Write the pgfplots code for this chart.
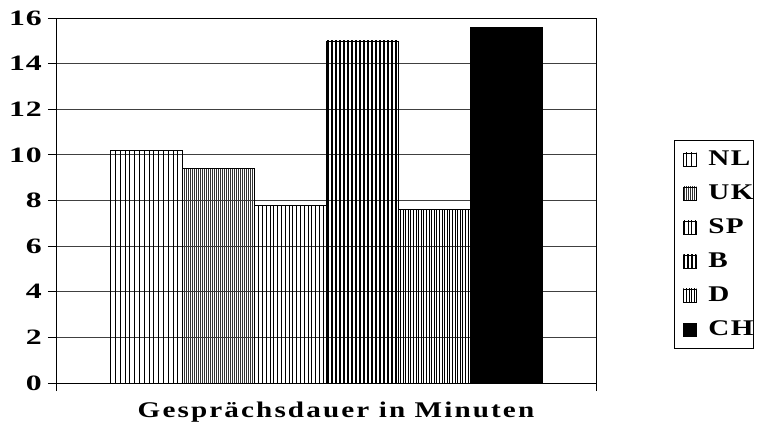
\documentclass[border=0pt]{standalone}
\usepackage{fontspec}
\setmainfont{Liberation Serif}
\usepackage{pgfplots}
\pgfplotsset{compat=1.18}
\usetikzlibrary{patterns.meta}

% wide bold faces for ticks, axis label and legend
\newfontfamily\tickfont[FakeStretch=1.45, LetterSpace=4]{Liberation Serif}
\newfontfamily\labelfont[FakeStretch=1.3, LetterSpace=9.5]{Liberation Serif}
\newfontfamily\legfont[FakeStretch=1.3, LetterSpace=6]{Liberation Serif}

\begin{document}
\begin{tikzpicture}
\begin{axis}[
  scale only axis,
  width=540bp, height=365bp,
  xmin=-0.5, xmax=0.5,
  ymin=0, ymax=16,
  ytick={0,2,...,16},
  xtick={-0.5,0.5},
  xticklabels={},
  tick pos=left,
  tick align=outside,
  major tick length=8bp,
  tick style={black, line width=0.8pt},
  ymajorgrids,
  grid style={black!75, line width=0.8pt},
  axis line style={black, line width=0.8pt},
  yticklabel={\tickfont\fontsize{22}{22}\selectfont\bfseries\pgfmathprintnumber[assume math mode=true]{\tick}},
  yticklabel style={inner xsep=1bp, xshift=-5bp},
  xlabel={\labelfont\fontsize{22.5}{22.5}\selectfont\bfseries Gesprächsdauer in Minuten},
  xlabel style={yshift=-1bp, xshift=10bp},
  ybar=0pt,
  bar width=0.13333,
  legend style={at={(rel axis cs:1.1444,0.6658)}, anchor=north west,
    draw=black, line width=0.8pt,
    font=\legfont\fontsize{22.5}{22.5}\selectfont\bfseries,
    nodes={inner sep=0pt, text height=16bp, text depth=4bp},
    row sep=14bp, inner ysep=9bp, inner xsep=0bp,
    /tikz/column 1/.style={column sep=0bp},
    /tikz/column 2/.style={column sep=3bp}},
  legend cell align=left,
  legend image code/.code={\draw[#1, line width=0.4pt] (9bp,-6.5bp) rectangle (22bp,6.5bp);
    \path[draw=none, fill=none, pattern=none] (0bp,0bp) rectangle (34bp,0.1bp);},
]
\addplot[draw=black, line width=0.6pt, pattern={Lines[angle=90, distance=4.8bp, line width=0.5bp]}] coordinates {(0,10.2)};
\addlegendentry{NL}
\addplot[draw=black, line width=0.6pt, pattern={Lines[angle=90, distance=2bp, line width=0.8bp]}, pattern color=black!80] coordinates {(0,9.4)};
\addlegendentry{UK}
\addplot[draw=black, line width=0.6pt, pattern={Lines[angle=90, distance=3.8bp, line width=0.6bp]}] coordinates {(0,7.8)};
\addlegendentry{SP}
\addplot[draw=black, line width=0.6pt, pattern={Lines[angle=90, distance=4bp, line width=2bp]}] coordinates {(0,15)};
\addlegendentry{B}
\addplot[draw=black, line width=0.6pt, pattern={Lines[angle=90, distance=2.6bp, line width=0.9bp]}] coordinates {(0,7.6)};
\addlegendentry{D}
\addplot[draw=black, line width=0.6pt, fill=black] coordinates {(0,15.6)};
\addlegendentry{CH}
\end{axis}
\pgfresetboundingbox
\path (-56bp,-44bp) rectangle (704bp,383bp);
\end{tikzpicture}
\end{document}
